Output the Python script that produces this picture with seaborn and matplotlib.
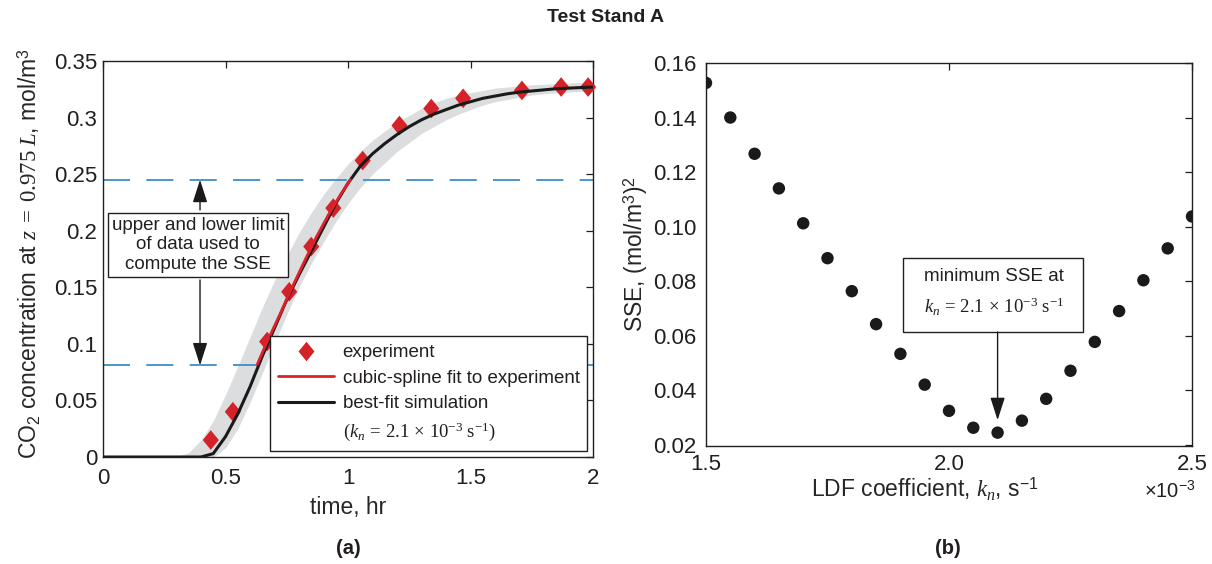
import numpy as np
import pandas as pd
import matplotlib
matplotlib.use("Agg")
import matplotlib.pyplot as plt
from matplotlib.lines import Line2D
from matplotlib.path import Path
from matplotlib.patches import Rectangle
import seaborn as sns

# ---------------- data ----------------
t_exp = [0.44, 0.53, 0.67, 0.76, 0.85, 0.94, 1.06, 1.21, 1.34, 1.47, 1.71, 1.87, 1.98]
c_exp = [0.015, 0.040, 0.102, 0.146, 0.186, 0.220, 0.262, 0.293, 0.308, 0.317, 0.324, 0.327, 0.327]

t_fit = [0.63, 0.67, 0.72, 0.77, 0.82, 0.87, 0.92, 0.97, 1.01]
c_fit = [0.082, 0.102, 0.125, 0.149, 0.172, 0.194, 0.214, 0.232, 0.245]

t_sim = [0.00, 0.05, 0.10, 0.15, 0.20, 0.25, 0.30, 0.35, 0.40, 0.45,
         0.50, 0.55, 0.60, 0.65, 0.70, 0.75, 0.80, 0.85, 0.90, 0.95,
         1.00, 1.05, 1.10, 1.15, 1.20, 1.25, 1.30, 1.35, 1.40, 1.45,
         1.50, 1.55, 1.60, 1.65, 1.70, 1.75, 1.80, 1.85, 1.90, 1.95, 2.00]
c_sim = [0, 0, 0, 0, 0, 0, 0, 0, 0, 0.003,
         0.018, 0.038, 0.062, 0.089, 0.114, 0.139, 0.161, 0.182, 0.203, 0.224,
         0.242, 0.257, 0.268, 0.277, 0.285, 0.292, 0.298, 0.303, 0.307, 0.311,
         0.314, 0.317, 0.319, 0.321, 0.3225, 0.3235, 0.3245, 0.3255, 0.326, 0.3265, 0.327]
c_band_hi = [0, 0, 0, 0, 0, 0, 0, 0.004, 0.015, 0.032,
             0.055, 0.080, 0.106, 0.132, 0.156, 0.178, 0.198, 0.216, 0.232, 0.246,
             0.259, 0.270, 0.280, 0.288, 0.296, 0.302, 0.308, 0.313, 0.317, 0.320,
             0.322, 0.324, 0.326, 0.327, 0.328, 0.329, 0.3295, 0.330, 0.3305, 0.331, 0.331]
c_band_lo = [0, 0, 0, 0, 0, 0, 0, 0, 0, 0,
             0.008, 0.025, 0.048, 0.074, 0.100, 0.126, 0.150, 0.171, 0.190, 0.208,
             0.224, 0.238, 0.250, 0.260, 0.270, 0.278, 0.286, 0.292, 0.298, 0.303,
             0.307, 0.311, 0.314, 0.316, 0.318, 0.320, 0.321, 0.322, 0.3225, 0.323, 0.323]

limits = [0.245, 0.081]

k_vals = [1.50, 1.55, 1.60, 1.65, 1.70, 1.75, 1.80, 1.85, 1.90, 1.95, 2.00,
          2.05, 2.10, 2.15, 2.20, 2.25, 2.30, 2.35, 2.40, 2.45, 2.50]
sse_vals = [0.1527, 0.1400, 0.1267, 0.1140, 0.1012, 0.0884, 0.0763, 0.0642, 0.0533, 0.0420, 0.0324,
            0.0262, 0.0244, 0.0288, 0.0368, 0.0471, 0.0577, 0.0690, 0.0803, 0.0920, 0.1037]

left_yticks = [0, 0.05, 0.1, 0.15, 0.2, 0.25, 0.3, 0.35]
left_yticklabels = ["0", "0.05", "0.1", "0.15", "0.2", "0.25", "0.3", "0.35"]
left_xticks = [0, 0.5, 1, 1.5, 2]
left_xticklabels = ["0", "0.5", "1", "1.5", "2"]
right_yticks = [0.02, 0.04, 0.06, 0.08, 0.10, 0.12, 0.14, 0.16]
right_yticklabels = ["0.02", "0.04", "0.06", "0.08", "0.10", "0.12", "0.14", "0.16"]
right_xticks = [1.5, 2.0, 2.5]
right_xticklabels = ["1.5", "2.0", "2.5"]

# ---------------- style ----------------
sns.set_style("white")
plt.rcParams["font.family"] = ["Liberation Sans", "DejaVu Sans"]
plt.rcParams["mathtext.fontset"] = "custom"
plt.rcParams["mathtext.rm"] = "Liberation Serif"
plt.rcParams["mathtext.it"] = "Liberation Serif:italic"
plt.rcParams["mathtext.bf"] = "Liberation Serif:bold"
plt.rcParams["mathtext.sf"] = "Liberation Sans"
plt.rcParams["text.color"] = "#231f20"

RED = "#e0202a"
DRED = "#d52128"
BLUE = "#3b8ec9"
GREY = "#dcdddf"
INK = "#231f20"

fig = plt.figure(figsize=(12.12, 5.64), dpi=100)
axL = fig.add_axes([103 / 1212, 1 - 457 / 564, 490 / 1212, 396 / 564])
axR = fig.add_axes([706 / 1212, 1 - 446 / 564, 486 / 1212, 383 / 564])

diamond = Path([(0, 1), (0.82, 0), (0, -1), (-0.82, 0), (0, 1)],
               [Path.MOVETO, Path.LINETO, Path.LINETO, Path.LINETO, Path.CLOSEPOLY])

# ---------------- left panel ----------------
sim = pd.DataFrame({"t": t_sim, "c": c_sim, "lo": c_band_lo, "hi": c_band_hi})
axL.fill_between(sim["t"], sim["lo"], sim["hi"], color=GREY, lw=0, zorder=1)
for y in limits:
    axL.axhline(y, color=BLUE, lw=1.3, dashes=(15, 9), zorder=2)
sns.scatterplot(x=t_exp, y=c_exp, ax=axL, marker=diamond, s=200, color=DRED,
                edgecolor="none", zorder=3, clip_on=False)
sns.lineplot(data=sim, x="t", y="c", ax=axL, color="#1a1a1a", lw=2.2, zorder=4)
sns.lineplot(x=t_fit, y=c_fit, ax=axL, color=RED, lw=2.0, zorder=5)

axL.set_xlim(0, 2)
axL.set_ylim(0, 0.35)
axL.set_xticks(left_xticks)
axL.set_xticklabels(left_xticklabels)
axL.set_yticks(left_yticks)
axL.set_yticklabels(left_yticklabels)
axL.set_xlabel("time, hr", fontsize=16.5, labelpad=5)
axL.set_ylabel(r"CO$_\mathsf{2}$ concentration at $z\;=\;0.975\;L$, mol/m$^\mathsf{3}$",
               fontsize=16.5, labelpad=7)
axL.yaxis.set_label_coords(-0.122, 0.515)

# annotation box with arrows
axL.text(0.388, 0.1874, "upper and lower limit\nof data used to\ncompute the SSE",
         ha="center", va="center", fontsize=13.5, linespacing=1.2, zorder=6,
         bbox=dict(boxstyle="square,pad=0.2", fc="white", ec=INK, lw=1.0))
arrow_kw = dict(arrowstyle="-|>,head_length=1.4,head_width=0.45", color="#1a1a1a",
                lw=1.0, shrinkA=0, shrinkB=0)
axL.annotate("", xy=(0.396, 0.245), xytext=(0.396, 0.2184), arrowprops=arrow_kw, zorder=6)
axL.annotate("", xy=(0.396, 0.081), xytext=(0.396, 0.1565), arrowprops=arrow_kw, zorder=6)

handles = [
    Line2D([], [], ls="none", marker=diamond, markersize=14, color=DRED, mec="none"),
    Line2D([], [], color=RED, lw=2.0),
    Line2D([], [], color="#1a1a1a", lw=2.2),
    Line2D([], [], ls="none", marker=None),
]
labels = ["experiment", "cubic-spline fit to experiment", "best-fit simulation",
          r"$(k_n\,=\,2.1\,\times\,10^{-3}\ \mathrm{s}^{-1})$"]
leg = axL.legend(handles, labels, loc="lower right", bbox_to_anchor=(0.988, 0.016),
                 fontsize=13.5, frameon=True, fancybox=False, framealpha=1,
                 edgecolor=INK, handlelength=3.0, handletextpad=0.45,
                 labelspacing=0.45, borderpad=0.4, borderaxespad=0)
leg.get_frame().set_linewidth(1.0)
leg.set_zorder(7)

# ---------------- right panel ----------------
sns.scatterplot(x=k_vals, y=sse_vals, ax=axR, color="#1a1a1a", s=80,
                edgecolor="none", zorder=3)
axR.set_xlim(1.5, 2.5)
axR.set_ylim(0.0195, 0.16)
axR.set_xticks(right_xticks)
axR.set_xticklabels(right_xticklabels)
axR.set_yticks(right_yticks)
axR.set_yticklabels(right_yticklabels)
axR.set_xlabel(r"LDF coefficient, $k_n$, s$^\mathsf{-1}$", fontsize=16.5, labelpad=5)
axR.xaxis.set_label_coords(0.45, -0.078)
axR.set_ylabel(r"SSE, (mol/m$^\mathsf{3}$)$^\mathsf{2}$", fontsize=16.5, labelpad=2)

axR.add_patch(Rectangle((1.905, 0.0613), 2.276 - 1.905, 0.0885 - 0.0613,
                        fc="white", ec=INK, lw=1.0, zorder=5))
axR.text(2.092, 0.0815, "minimum SSE at", ha="center", va="center",
         fontsize=13.5, zorder=6)
axR.text(2.092, 0.0705, r"$k_n\,=\,2.1\,\times\,10^{-3}\ \mathrm{s}^{-1}$",
         ha="center", va="center", fontsize=13.5, zorder=6)
axR.annotate("", xy=(2.1, 0.029), xytext=(2.1, 0.0613), arrowprops=arrow_kw, zorder=6)

for ax, xpad, ypad in ((axL, 8, 4), (axR, 6, 7)):
    for sp in ax.spines.values():
        sp.set_visible(True)
        sp.set_color(INK)
        sp.set_linewidth(1.0)
    ax.tick_params(direction="in", length=5, width=0.9, top=True, right=True,
                   labelsize=16, colors=INK)
    ax.tick_params(axis="x", pad=xpad)
    ax.tick_params(axis="y", pad=ypad)
    ax.grid(False)

fig.text(1170 / 1212, 1 - 491 / 564, r"$\mathsf{\times}$10$^\mathsf{-3}$", ha="center",
         va="center", fontsize=14.5)
fig.text(606 / 1212, 1 - 17 / 564, "Test Stand A", ha="center", va="center",
         fontsize=14, fontweight="bold")
fig.text(348 / 1212, 1 - 548 / 564, "(a)", ha="center", va="center", fontsize=14.5,
         fontweight="bold")
fig.text(948 / 1212, 1 - 548 / 564, "(b)", ha="center", va="center", fontsize=14.5,
         fontweight="bold")

fig.savefig("out.png", dpi=100)
